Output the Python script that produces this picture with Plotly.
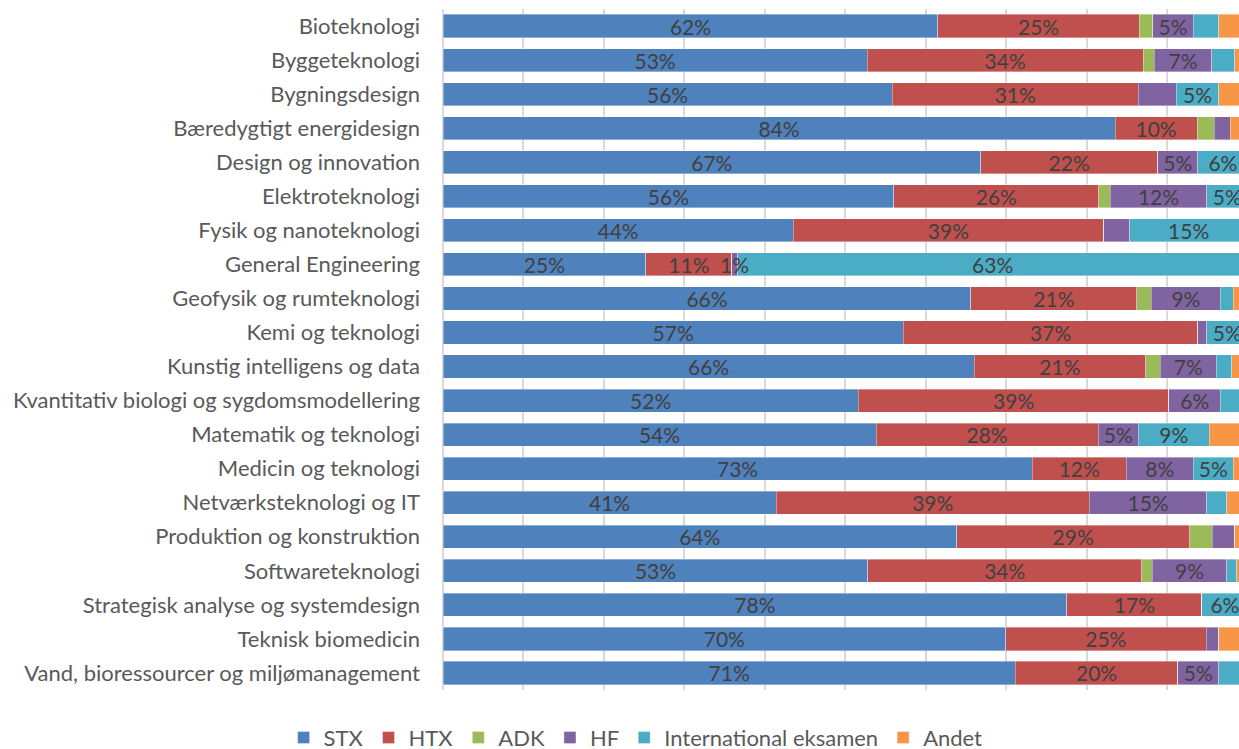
import plotly.graph_objects as go

uddannelser = [
    "Bioteknologi",
    "Byggeteknologi",
    "Bygningsdesign",
    "Bæredygtigt energidesign",
    "Design og innovation",
    "Elektroteknologi",
    "Fysik og nanoteknologi",
    "General Engineering",
    "Geofysik og rumteknologi",
    "Kemi og teknologi",
    "Kunstig intelligens og data",
    "Kvantitativ biologi og sygdomsmodellering",
    "Matematik og teknologi",
    "Medicin og teknologi",
    "Netværksteknologi og IT",
    "Produktion og konstruktion",
    "Softwareteknologi",
    "Strategisk analyse og systemdesign",
    "Teknisk biomedicin",
    "Vand, bioressourcer og miljømanagement",
]

# andele i procent
stx = [61.5, 52.7, 55.8, 83.5, 66.8, 56.0, 43.5, 25.2, 65.6, 57.2,
       66.0, 51.6, 53.8, 73.2, 41.4, 63.8, 52.8, 77.5, 69.9, 71.1]
htx = [25.0, 34.3, 30.6, 10.2, 22.0, 25.5, 38.6, 10.7, 20.6, 36.6,
       21.3, 38.6, 27.6, 11.7, 38.9, 29.0, 34.0, 16.8, 24.9, 20.2]
adk = [1.7, 1.4, 0.0, 2.1, 0.0, 1.4, 0.0, 0.0, 1.8, 0.0,
       1.8, 0.0, 0.0, 0.0, 0.0, 2.8, 1.3, 0.0, 0.0, 0.0]
hf = [5.0, 7.1, 4.7, 2.0, 5.0, 12.0, 3.2, 0.7, 8.6, 1.1,
      7.0, 6.4, 5.0, 8.3, 14.6, 2.8, 9.3, 0.0, 1.6, 5.1]
intl = [3.2, 2.9, 5.3, 0.0, 6.2, 5.1, 14.7, 63.4, 1.6, 5.1,
        1.9, 3.4, 8.8, 5.0, 2.5, 0.0, 1.2, 5.7, 0.0, 3.6]
andet = [3.6, 1.6, 3.6, 2.2, 0.0, 0.0, 0.0, 0.0, 1.8, 0.0,
         2.0, 0.0, 4.8, 1.8, 2.6, 1.6, 1.4, 0.0, 3.6, 0.0]

serier = ["STX", "HTX", "ADK", "HF", "International eksamen", "Andet"]
farver = ["#4F81BD", "#C0504D", "#9BBB59", "#8064A2", "#4BACC6", "#F79646"]
# enkelte smaa etiketter der alligevel vises (tegnes ovenpaa)
ekstra = {("General Engineering", "HF")}

alle = [stx, htx, adk, hf, intl, andet]

fig = go.Figure()
for navn, vals, farve in zip(serier, alle, farver):
    tekst = [f"{int(v + 0.5)}%" if v >= 5 else "" for v in vals]
    fig.add_trace(go.Bar(
        name=navn,
        y=uddannelser,
        x=[v / 100 for v in vals],
        orientation="h",
        marker=dict(color=farve, line=dict(color="rgba(255,255,255,0.6)", width=0.6)),
        text=tekst,
        textposition="inside",
        insidetextanchor="middle",
        textangle=0,
        textfont=dict(color="#404040", size=21),
        hoverinfo="skip",
    ))

# smaa etiketter oven paa naeste segment
for u, navn in ekstra:
    i = uddannelser.index(u)
    k = serier.index(navn)
    start = sum(s[i] for s in alle[:k])
    v = alle[k][i]
    fig.add_annotation(
        x=(start + v / 2) / 100, y=u, text=f"{int(v + 0.5)}%",
        showarrow=False, font=dict(color="#404040", size=21),
    )

fig.update_layout(
    barmode="stack",
    bargap=0.32,
    width=1239,
    height=749,
    margin=dict(l=443, r=0, t=9, b=59),
    plot_bgcolor="white",
    paper_bgcolor="white",
    font=dict(family="Lato, sans-serif", color="#595959", size=22),
    uniformtext=dict(minsize=21, mode="show"),
    legend=dict(
        orientation="h",
        xref="container", yref="container",
        x=0.513, xanchor="center",
        y=0.015, yanchor="middle",
        font=dict(size=22, color="#595959"),
        traceorder="normal",
    ),
    showlegend=True,
)
fig.update_xaxes(
    range=[0, 0.989],
    dtick=0.1,
    showticklabels=False,
    showgrid=True,
    gridcolor="#D9D9D9",
    gridwidth=1.5,
    zeroline=True,
    zerolinecolor="#D9D9D9",
    zerolinewidth=1.5,
)
fig.update_yaxes(
    autorange="reversed",
    ticklabelstandoff=22,
    showgrid=False,
)

fig.write_html("out.html", config={"displayModeBar": False},
               post_script="document.body.style.margin='0';")
